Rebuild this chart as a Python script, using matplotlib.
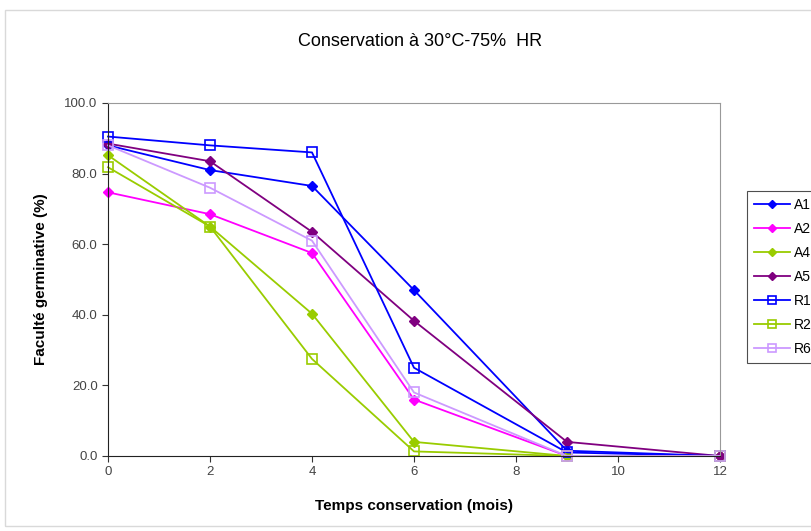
import matplotlib
matplotlib.use("Agg")
import matplotlib.pyplot as plt
from matplotlib.patches import Rectangle

plt.rcParams['font.family'] = ['Liberation Sans', 'DejaVu Sans']

mois = [0, 2, 4, 6, 9, 12]
labels = ["A1", "A2", "A4", "A5", "R1", "R2", "R6"]
A1 = [88.0, 81.0, 76.5, 47.0, 1.5, 0.0]
A2 = [74.7, 68.5, 57.5, 16.0, 0.0, 0.0]
A4 = [85.2, 65.0, 40.3, 4.0, 0.0, 0.0]
A5 = [88.5, 83.5, 63.5, 38.3, 4.0, 0.0]
R1 = [90.5, 88.0, 86.0, 25.0, 1.0, 0.0]
R2 = [81.8, 65.0, 27.5, 1.3, 0.0, 0.0]
R6 = [88.0, 76.0, 61.0, 18.0, 0.0, 0.0]
series = [A1, A2, A4, A5, R1, R2, R6]
colours = ["#0000FF", "#FF00FF", "#99CC00", "#800080", "#0000FF", "#99CC00", "#CC99FF"]
markers = ["D", "D", "D", "D", "s", "s", "s"]

fig = plt.figure(figsize=(8.11, 5.31), dpi=100)
fig.patches.append(Rectangle((5 / 811, 0.01), 1.0, 1 - 10 / 531 - 0.01, transform=fig.transFigure,
                             fill=False, edgecolor="#d9d9d9", linewidth=1.0))
ax = fig.add_axes([108 / 811, 75 / 531, 612 / 811, 353 / 531])

for vals, lab, col, mk in zip(series, labels, colours, markers):
    if mk == "s":
        ax.plot(mois, vals, color=col, marker=mk, markersize=7, markerfacecolor="none",
                markeredgecolor=col, markeredgewidth=1.2, linewidth=1.3, label=lab, clip_on=False)
    else:
        ax.plot(mois, vals, color=col, marker=mk, markersize=5.5, linewidth=1.3, label=lab,
                clip_on=False)

ax.set_xlim(0, 12)
ax.set_ylim(0, 100)
ax.set_xticks(range(0, 13, 2))
ax.set_yticks(range(0, 101, 20))
ax.set_yticklabels(["%.1f" % v for v in range(0, 101, 20)])
ax.tick_params(labelsize=9.5, labelcolor="#444444", length=4, color="#333333")
for s in ["top", "right"]:
    ax.spines[s].set_color("#999999")
ax.spines["left"].set_color("#222222")
ax.spines["bottom"].set_color("#222222")

ax.set_xlabel("Temps conservation (mois)", fontsize=11, fontweight="bold", labelpad=15)
ax.set_ylabel("Faculté germinative (%)", fontsize=11, fontweight="bold", labelpad=12)
fig.text(420 / 811, 1 - 42 / 531, "Conservation à 30°C-75%  HR", fontsize=13,
         ha="center", va="center")

leg = ax.legend(loc="upper left", bbox_to_anchor=(747 / 811, 1 - 191 / 531),
                bbox_transform=fig.transFigure, fontsize=10, frameon=True, fancybox=False,
                edgecolor="#222222", handlelength=2.6, labelspacing=0.72, borderpad=0.5,
                handletextpad=0.3, borderaxespad=0, markerscale=0.75)
leg.get_frame().set_linewidth(0.8)

fig.savefig("out.png", dpi=100)
